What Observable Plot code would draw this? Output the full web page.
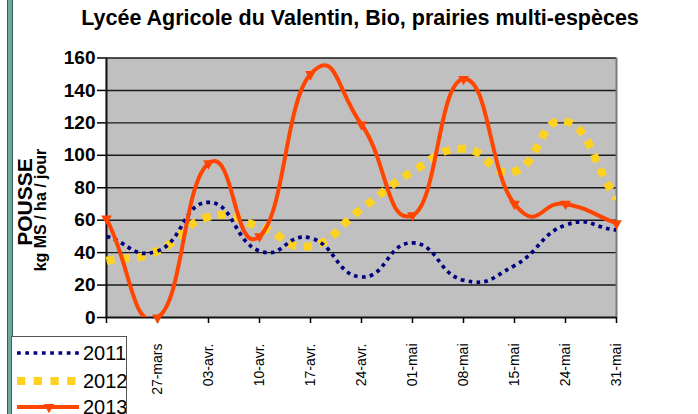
<!DOCTYPE html>
<html>
<head>
<meta charset="utf-8">
<script src="https://cdn.jsdelivr.net/npm/d3@7"></script>
<script src="https://cdn.jsdelivr.net/npm/@observablehq/plot@0.6"></script>
<style>
  html, body { margin: 0; padding: 0; background: #fff; }
  #wrap { position: relative; width: 698px; height: 414px; overflow: hidden; }
  #title { position: absolute; top: 4px; left: 0; width: 720px; text-align: center;
    font: bold 21.5px "Liberation Sans Narrow", "Liberation Sans", Arial, sans-serif; line-height: 28px; color: #000; }
  #chart { position: absolute; top: 40px; left: 0; }
  #strip { position: absolute; left: 7px; top: 0; width: 4px; height: 414px; background: #6fa89c; border-left: 1px solid #2f5c55; border-right: 1px solid #2f5c55; }
  #legend { position: absolute; left: 11px; top: 336px; width: 114px; height: 90px; border: 1px solid #555; background: #fff; }
</style>
</head>
<body>
<div id="wrap">
  <div id="strip"></div>
  <div id="title">Lycée Agricole du Valentin, Bio, prairies multi-espèces</div>
  <div id="chart"></div>
  <div id="legend"></div>
</div>
<script>
const dates = ["", "27-mars", "03-avr.", "10-avr.", "17-avr.", "24-avr.", "01-mai", "08-mai", "15-mai", "24-mai", "31-mai"];
const s2011 = [50, 41, 71, 41, 49, 25, 46, 23, 32, 57, 54];
const s2012 = [35, 41, 62, 56, 44, 67, 90, 104, 90, 121, 73];
const s2013 = [61, 0, 95, 50, 150, 119, 63, 147, 70, 70, 58];
const yTicks = [0, 20, 40, 60, 80, 100, 120, 140, 160];
const years = ["2011", "2012", "2013"];
const yLabel = ["POUSSE", "kg MS / ha / jour"];

const F = '"Liberation Sans Narrow", "Liberation Sans", Arial, sans-serif';
const C2011 = "#000080", C2012 = "#ffd21f", C2013 = "#ff4500";

// Spreadsheet-style smoothed line: cubic Béziers with Catmull-Rom-like tangents,
// end tangents taken from a reflected phantom point.
function ExcelSmooth(context, k) { this._context = context; this._k = k; }
ExcelSmooth.prototype = {
  areaStart() { this._line = 0; },
  areaEnd() { this._line = NaN; },
  lineStart() { this._pts = []; },
  point(x, y) { this._pts.push([+x, +y]); },
  lineEnd() {
    const p = this._pts, n = p.length, c = this._context, k = this._k;
    if (!n) return;
    if (this._line === 0) c.lineTo(p[0][0], p[0][1]); else c.moveTo(p[0][0], p[0][1]);
    for (let i = 0; i < n - 1; i++) {
      const a = p[i], b = p[i + 1];
      const prev = i > 0 ? p[i - 1] : [2 * a[0] - b[0], 2 * a[1] - b[1]];
      const next = i + 2 < n ? p[i + 2] : [2 * b[0] - a[0], 2 * b[1] - a[1]];
      c.bezierCurveTo(
        a[0] + k * (b[0] - prev[0]), a[1] + k * (b[1] - prev[1]),
        b[0] - k * (next[0] - a[0]), b[1] - k * (next[1] - a[1]),
        b[0], b[1]);
    }
  }
};
const curve = context => new ExcelSmooth(context, 0.25);

const chart = Plot.plot({
  width: 698, height: 374,
  marginLeft: 105, marginRight: 82, marginTop: 17.5, marginBottom: 97,
  style: { fontFamily: F, background: "transparent", overflow: "visible", color: "#000" },
  x: { type: "point", domain: dates, padding: 0 },
  y: { domain: [0, 160] },
  marks: [
    Plot.frame({ fill: "#c0c0c0" }),
    Plot.ruleY(yTicks.slice(1), { stroke: "#1a1a1a", strokeWidth: 1.4 }),
    Plot.ruleX([dates[dates.length - 1]], { stroke: "#7a7a7a", strokeWidth: 2 }),
    Plot.axisY({ ticks: yTicks, tickSize: 8, tickPadding: 2, fontSize: 19, fontWeight: "bold", label: null, strokeWidth: 1.5 }),
    Plot.axisX({ tickSize: 6, tickRotate: -90, fontSize: 14, tickPadding: 20, label: null, strokeWidth: 1.5 }),
    Plot.ruleX([dates[0]], { stroke: "#111", strokeWidth: 2 }),
    Plot.ruleY([0], { stroke: "#111", strokeWidth: 2 }),
    Plot.line(dates, { x: d => d, y: (d, i) => s2012[i], stroke: C2012, strokeWidth: 8, strokeDasharray: "8 7.5", strokeLinecap: "butt", strokeLinejoin: "miter", curve, clip: true }),
    Plot.line(dates, { x: d => d, y: (d, i) => s2011[i], stroke: C2011, strokeWidth: 3.7, strokeDasharray: "3.7 4.2", strokeLinecap: "butt", curve, clip: true }),
    Plot.line(dates, { x: d => d, y: (d, i) => s2013[i], stroke: C2013, strokeWidth: 4, curve, clip: true }),
    Plot.dot(dates, { x: d => d, y: (d, i) => s2013[i], symbol: "triangle", rotate: 180, r: 4, fill: C2013, stroke: "none" })
  ]
});
document.getElementById("chart").appendChild(chart);

// y axis title (two rotated lines), in chart svg coordinates (page y - 40)
const svg = d3.select(chart);
const yl = [{ x: 32, y: 202 - 40, s: 21 }, { x: 46, y: 210 - 40, s: 16 }];
yLabel.forEach((t, i) => {
  svg.append("text").attr("transform", `translate(${yl[i].x},${yl[i].y}) rotate(-90)`)
    .attr("text-anchor", "middle").attr("font-family", F).attr("font-weight", "bold")
    .attr("font-size", yl[i].s).attr("fill", "#000").text(t);
});

// legend
const lg = d3.select("#legend").append("svg").attr("width", 114).attr("height", 90).style("display", "block");
const rows = [
  { y: 16, stroke: C2011, w: 3.7, dash: "3.7 4.6", x2: 67 },
  { y: 44, stroke: C2012, w: 8, dash: "8.3 8.4", x2: 64 },
  { y: 70, stroke: C2013, w: 4, dash: null, x2: 67 }
];
rows.forEach((r, i) => {
  const l = lg.append("line").attr("x1", 5).attr("x2", r.x2).attr("y1", r.y).attr("y2", r.y)
    .attr("stroke", r.stroke).attr("stroke-width", r.w);
  if (r.dash) l.attr("stroke-dasharray", r.dash);
  lg.append("text").attr("x", 71).attr("y", r.y + 7).attr("font-family", F).attr("font-size", 20).text(years[i]);
});
lg.append("path").attr("d", d3.symbol(d3.symbolTriangle, 50)()).attr("transform", "translate(37,70) rotate(180)").attr("fill", C2013);
</script>
</body>
</html>
